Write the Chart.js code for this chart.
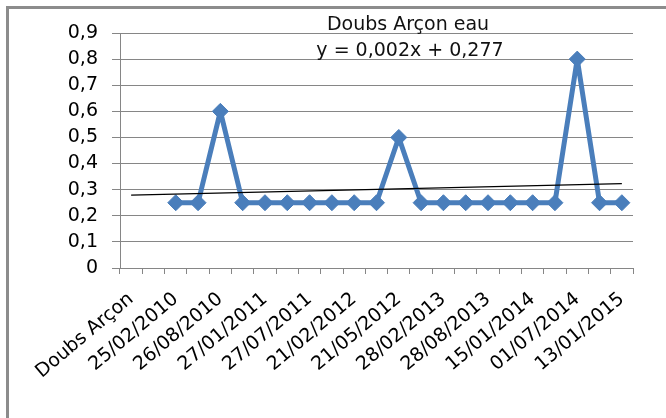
<!DOCTYPE html>
<html>
<head>
<meta charset="utf-8">
<script src="https://cdn.jsdelivr.net/npm/chart.js@4/dist/chart.umd.min.js"></script>
<style>
  body { margin: 0; background: #fff; }
  #wrap { position: relative; width: 666px; height: 418px; }
  #frame { position: absolute; left: 6px; top: 6px; right: 0; bottom: 0;
           border-top: 3px solid #8c8c8c; border-left: 3px solid #8c8c8c; }
  canvas { position: absolute; left: 0; top: 0; }
</style>
</head>
<body>
<div id="wrap">
  <div id="frame"></div>
  <canvas id="myChart" width="666" height="418"></canvas>
</div>
<script>
// categories (only every other one is labelled in the picture)
const categories = [
  'Doubs Arçon', '', '25/02/2010', '', '26/08/2010', '', '27/01/2011', '',
  '27/07/2011', '', '21/02/2012', '', '21/05/2012', '', '28/02/2013', '',
  '28/08/2013', '', '15/01/2014', '', '01/07/2014', '', '13/01/2015'
];

// measured values, eau
const values = [
  null, null, 0.25, 0.25, 0.6, 0.25, 0.25, 0.25, 0.25, 0.25, 0.25, 0.25,
  0.5, 0.25, 0.25, 0.25, 0.25, 0.25, 0.25, 0.25, 0.8, 0.25, 0.25
];

const yTicks = [0, 0.1, 0.2, 0.3, 0.4, 0.5, 0.6, 0.7, 0.8, 0.9];

// linear trend shown on the chart
const trendSlope = 0.002;
const trendIntercept = 0.277;
const titleText = 'Doubs Arçon eau';
const equationText = 'y = 0,002x + 0,277';

const last = categories.length - 1;
const trend = categories.map((c, i) =>
  i === 0 || i === last ? trendIntercept + trendSlope * (i + 1) : null
);

const gridColor = '#868686';
const blue = '#4a7ebb';

// title + equation inside the plot, like excel
const textPlugin = {
  id: 'texts',
  afterDraw(chart) {
    const ctx = chart.ctx;
    ctx.save();
    ctx.fillStyle = '#111';
    ctx.font = '19px "DejaVu Sans"';
    ctx.textAlign = 'center';
    ctx.textBaseline = 'middle';
    ctx.fillText(titleText, 408, 25);
    ctx.fillText(equationText, 410, 51);
    ctx.restore();
  }
};

const ctx = document.getElementById('myChart').getContext('2d');
let chart = new Chart(ctx, {
  type: 'line',
  data: {
    labels: categories,
    datasets: [
      {
        label: 'Linéaire',
        data: trend,
        borderColor: '#000',
        borderWidth: 1.2,
        pointRadius: 0,
        spanGaps: true,
        order: 0,
      },
      {
        label: titleText,
        data: values,
        borderColor: blue,
        backgroundColor: blue,
        borderWidth: 5,
        borderJoinStyle: 'round',
        pointStyle: 'rectRot',
        pointRadius: 8,
        pointBorderWidth: 1,
        pointBackgroundColor: blue,
        pointBorderColor: blue,
        order: 1,
      },
    ],
  },
  options: {
    responsive: false,
    animation: false,
    layout: { padding: { top: 33, right: 33, left: 0, bottom: 0 } },
    plugins: {
      legend: { display: false },
      tooltip: { enabled: false },
    },
    scales: {
      x: {
        offset: true,
        grid: {
          offset: true,
          drawOnChartArea: false,
          color: gridColor,
          tickLength: 6,
        },
        border: { color: gridColor },
        ticks: {
          autoSkip: false,
          minRotation: 40,
          maxRotation: 40,
          padding: 14,
          color: '#000',
          font: { family: 'DejaVu Sans', size: 19 },
        },
        afterFit: (scale) => { scale.height = 150; },
      },
      y: {
        min: 0,
        max: 0.9,
        afterBuildTicks: (scale) => { scale.ticks = yTicks.map((v) => ({ value: v })); },
        grid: { color: gridColor, tickLength: 8 },
        border: { color: gridColor },
        ticks: {
          padding: 14,
          color: '#000',
          font: { family: 'DejaVu Sans', size: 19 },
          callback: (v) => (v === 0 ? '0' : v.toFixed(1).replace('.', ',')),
        },
        afterFit: (scale) => { scale.width = 120; },
      },
    },
  },
  plugins: [textPlugin],
});
</script>
</body>
</html>
